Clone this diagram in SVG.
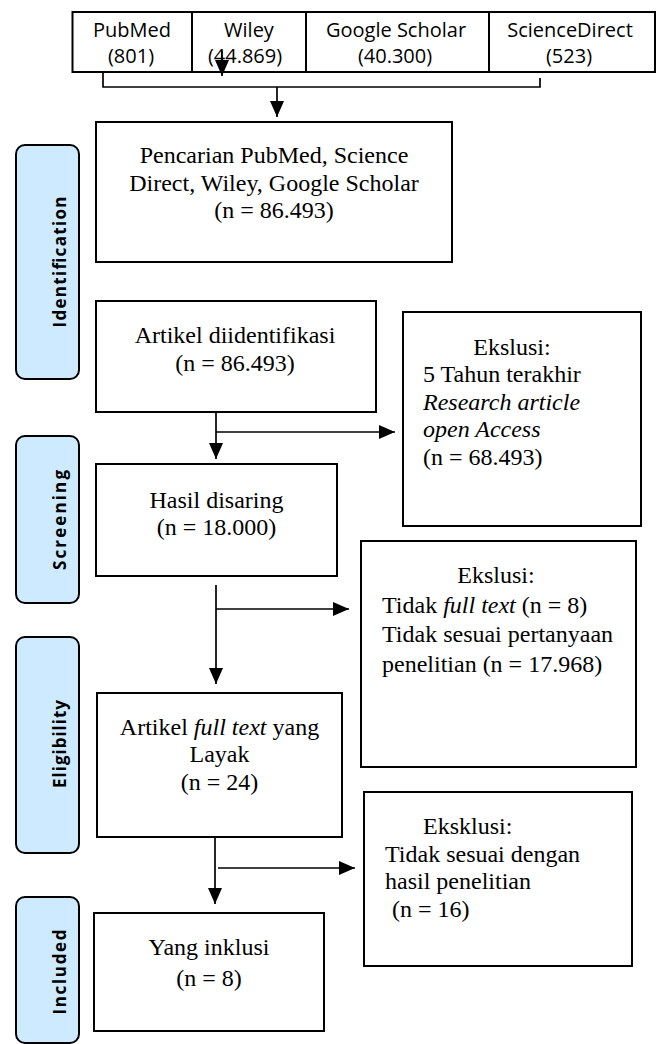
<svg xmlns="http://www.w3.org/2000/svg" width="657" height="1044" viewBox="0 0 657 1044">
<style>
.box{fill:#fff;stroke:#000;stroke-width:2}
.bar{fill:#cdeafe;stroke:#000;stroke-width:2}
.tbl{fill:none;stroke:#000;stroke-width:2}
.cn{fill:none;stroke:#000;stroke-width:1.7}
.t{font-family:"Liberation Serif","Times New Roman",serif;font-size:24px;fill:#000}
.c{text-anchor:middle}
.i{font-style:italic}
.s{font-family:"Open Sans","Liberation Sans",sans-serif;font-size:20px;fill:#000;text-anchor:middle}
.lb{font-family:"Open Sans","Liberation Sans",sans-serif;font-size:17px;font-weight:bold;fill:#000;text-anchor:middle}
</style>
<defs>
<marker id="ah" viewBox="0 0 16 14" refX="16" refY="7" markerWidth="16" markerHeight="14" markerUnits="userSpaceOnUse" orient="auto">
<path d="M0,0 L16,7 L0,14 Z" fill="#000"/>
</marker>
</defs>
<rect width="657" height="1044" fill="#fff"/>

<g id="sources">
<rect class="tbl" x="72.5" y="12" width="582.5" height="60"/>
<line class="tbl" x1="192" y1="12" x2="192" y2="72"/>
<line class="tbl" x1="306" y1="12" x2="306" y2="72"/>
<line class="tbl" x1="489" y1="12" x2="489" y2="72"/>
<text class="s" x="132" y="37">PubMed</text>
<text class="s" x="131" y="63">(801)</text>
<text class="s" x="249" y="37">Wiley</text>
<text class="s" x="245" y="63">(44.869)</text>
<text class="s" x="396" y="37">Google Scholar</text>
<text class="s" x="395" y="63">(40.300)</text>
<text class="s" x="570" y="37">ScienceDirect</text>
<text class="s" x="569" y="63">(523)</text>
</g>

<g id="label-identification">
<rect class="bar" x="16" y="145" width="63" height="234" rx="9"/>
<text class="lb" transform="translate(66,262) rotate(-90)" textLength="131" lengthAdjust="spacing">Identification</text>
</g>
<g id="label-screening">
<rect class="bar" x="16" y="436" width="63" height="167" rx="9"/>
<text class="lb" transform="translate(66,520) rotate(-90)" textLength="100" lengthAdjust="spacing">Screening</text>
</g>
<g id="label-eligibility">
<rect class="bar" x="16" y="637" width="63" height="216" rx="9"/>
<text class="lb" transform="translate(66,744) rotate(-90)" textLength="88" lengthAdjust="spacing">Eligibility</text>
</g>
<g id="label-included">
<rect class="bar" x="16" y="897" width="63" height="146" rx="9"/>
<text class="lb" transform="translate(66,972) rotate(-90)" textLength="85" lengthAdjust="spacing">Included</text>
</g>

<g id="search">
<rect class="box" x="96" y="122" width="356" height="140"/>
<text class="t c" x="274" y="163">Pencarian PubMed, Science</text>
<text class="t c" x="274" y="191">Direct, Wiley, Google Scholar</text>
<text class="t c" x="274" y="218">(n = 86.493)</text>
</g>

<g id="identified">
<rect class="box" x="96" y="301" width="280" height="111"/>
<text class="t c" x="235" y="343">Artikel diidentifikasi</text>
<text class="t c" x="235" y="371">(n = 86.493)</text>
</g>

<g id="exclusion1">
<rect class="box" x="403" y="312" width="238" height="214"/>
<text class="t c" x="512" y="355">Ekslusi:</text>
<text class="t" x="423" y="382">5 Tahun terakhir</text>
<text class="t i" x="423" y="410">Research article</text>
<text class="t i" x="423" y="437">open Access</text>
<text class="t" x="423" y="465">(n = 68.493)</text>
</g>

<g id="screened">
<rect class="box" x="96" y="464" width="241" height="112"/>
<text class="t c" x="216.5" y="508">Hasil disaring</text>
<text class="t c" x="216.5" y="535">(n = 18.000)</text>
</g>

<g id="exclusion2">
<rect class="box" x="361" y="541" width="275" height="226"/>
<text class="t c" x="496" y="583">Ekslusi:</text>
<text class="t" x="382" y="613">Tidak <tspan class="i">full text</tspan> (n = 8)</text>
<text class="t" x="382" y="642">Tidak sesuai pertanyaan</text>
<text class="t" x="382" y="672">penelitian (n = 17.968)</text>
</g>

<g id="eligible">
<rect class="box" x="97" y="693" width="245" height="144"/>
<text class="t c" x="219.5" y="735">Artikel <tspan class="i">full text</tspan> yang</text>
<text class="t c" x="219.5" y="762">Layak</text>
<text class="t c" x="219.5" y="790">(n = 24)</text>
</g>

<g id="exclusion3">
<rect class="box" x="364" y="792" width="268" height="174"/>
<text class="t" x="423" y="834">Eksklusi:</text>
<text class="t" x="385" y="862">Tidak sesuai dengan</text>
<text class="t" x="385" y="889">hasil penelitian</text>
<text class="t" x="392" y="917">(n = 16)</text>
</g>

<g id="included">
<rect class="box" x="94" y="913" width="230" height="118"/>
<text class="t c" x="209" y="955">Yang inklusi</text>
<text class="t c" x="209" y="986">(n = 8)</text>
</g>

<g id="connectors">
<path class="cn" d="M103,72 V87 H540 V78" stroke-width="2"/>
<path class="cn" d="M277,87 V117" marker-end="url(#ah)"/>
<path class="cn" d="M222,51 V76" marker-end="url(#ah)"/>
<path class="cn" d="M216,412 V459" marker-end="url(#ah)"/>
<path class="cn" d="M216,432 H395" marker-end="url(#ah)"/>
<path class="cn" d="M216,585 V684" marker-end="url(#ah)"/>
<path class="cn" d="M216,609 H349" marker-end="url(#ah)"/>
<path class="cn" d="M215,838 V904" marker-end="url(#ah)"/>
<path class="cn" d="M218,868 H355" marker-end="url(#ah)"/>
</g>
</svg>
